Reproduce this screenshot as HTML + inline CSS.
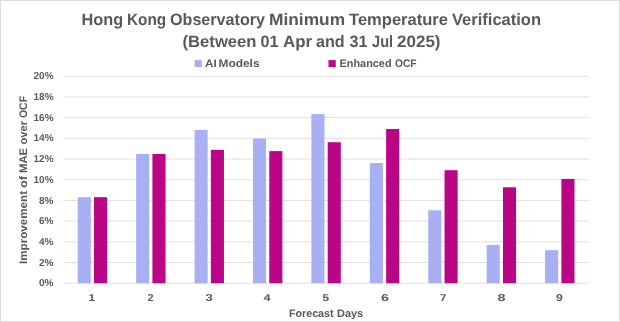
<!DOCTYPE html>
<html><head><meta charset="utf-8"><style>
html,body{margin:0;padding:0;background:#fff;width:620px;height:322px;overflow:hidden}
svg{display:block;will-change:transform}
text{font-family:"Liberation Sans", sans-serif;font-weight:bold;fill:#595959;text-rendering:geometricPrecision}
</style></head><body>
<svg width="620" height="322" viewBox="0 0 620 322">
<rect x="0.5" y="0.5" width="619" height="321" fill="#fff" stroke="#DCDCDC" stroke-width="1"/>
<rect x="63.20" y="282.70" width="525.80" height="1" fill="#E0E0E0"/>
<rect x="63.20" y="262.01" width="525.80" height="1" fill="#E0E0E0"/>
<rect x="63.20" y="241.32" width="525.80" height="1" fill="#E0E0E0"/>
<rect x="63.20" y="220.63" width="525.80" height="1" fill="#E0E0E0"/>
<rect x="63.20" y="199.94" width="525.80" height="1" fill="#E0E0E0"/>
<rect x="63.20" y="179.25" width="525.80" height="1" fill="#E0E0E0"/>
<rect x="63.20" y="158.56" width="525.80" height="1" fill="#E0E0E0"/>
<rect x="63.20" y="137.87" width="525.80" height="1" fill="#E0E0E0"/>
<rect x="63.20" y="117.18" width="525.80" height="1" fill="#E0E0E0"/>
<rect x="63.20" y="96.49" width="525.80" height="1" fill="#E0E0E0"/>
<rect x="63.20" y="75.80" width="525.80" height="1" fill="#E0E0E0"/>
<rect x="77.71" y="197.20" width="13.10" height="86.00" fill="#A8B0F3"/>
<rect x="94.01" y="197.20" width="13.10" height="86.00" fill="#BA0587"/>
<rect x="136.13" y="154.00" width="13.10" height="129.20" fill="#A8B0F3"/>
<rect x="152.43" y="154.00" width="13.10" height="129.20" fill="#BA0587"/>
<rect x="194.56" y="130.00" width="13.10" height="153.20" fill="#A8B0F3"/>
<rect x="210.86" y="149.80" width="13.10" height="133.40" fill="#BA0587"/>
<rect x="252.98" y="138.50" width="13.10" height="144.70" fill="#A8B0F3"/>
<rect x="269.28" y="151.10" width="13.10" height="132.10" fill="#BA0587"/>
<rect x="311.40" y="114.10" width="13.10" height="169.10" fill="#A8B0F3"/>
<rect x="327.70" y="142.20" width="13.10" height="141.00" fill="#BA0587"/>
<rect x="369.82" y="163.00" width="13.10" height="120.20" fill="#A8B0F3"/>
<rect x="386.12" y="129.00" width="13.10" height="154.20" fill="#BA0587"/>
<rect x="428.24" y="210.30" width="13.10" height="72.90" fill="#A8B0F3"/>
<rect x="444.54" y="170.20" width="13.10" height="113.00" fill="#BA0587"/>
<rect x="486.67" y="244.90" width="13.10" height="38.30" fill="#A8B0F3"/>
<rect x="502.97" y="187.30" width="13.10" height="95.90" fill="#BA0587"/>
<rect x="545.09" y="250.20" width="13.10" height="33.00" fill="#A8B0F3"/>
<rect x="561.39" y="178.90" width="13.10" height="104.30" fill="#BA0587"/>
<rect x="194.6" y="60.1" width="7.25" height="7" fill="#A8B0F3"/>
<rect x="328.5" y="60.1" width="7.25" height="7" fill="#BA0587"/>
<text x="81.50" y="24.90" font-size="16.5" textLength="41.65" lengthAdjust="spacingAndGlyphs">Hong</text>
<text x="127.00" y="24.90" font-size="16.5" textLength="39.11" lengthAdjust="spacingAndGlyphs">Kong</text>
<text x="170.00" y="24.90" font-size="16.5" textLength="95.02" lengthAdjust="spacingAndGlyphs">Observatory</text>
<text x="269.00" y="24.90" font-size="16.5" textLength="76.06" lengthAdjust="spacingAndGlyphs">Minimum</text>
<text x="349.00" y="24.90" font-size="16.5" textLength="99.01" lengthAdjust="spacingAndGlyphs">Temperature</text>
<text x="452.00" y="24.90" font-size="16.5" textLength="89.03" lengthAdjust="spacingAndGlyphs">Verification</text>
<text x="182.50" y="46.80" font-size="16.5" textLength="74.06" lengthAdjust="spacingAndGlyphs">(Between</text>
<text x="260.50" y="46.80" font-size="16.5" textLength="18.10" lengthAdjust="spacingAndGlyphs">01</text>
<text x="283.00" y="46.80" font-size="16.5" textLength="29.10" lengthAdjust="spacingAndGlyphs">Apr</text>
<text x="316.00" y="46.80" font-size="16.5" textLength="28.65" lengthAdjust="spacingAndGlyphs">and</text>
<text x="349.50" y="46.80" font-size="16.5" textLength="18.06" lengthAdjust="spacingAndGlyphs">31</text>
<text x="372.00" y="46.80" font-size="16.5" textLength="21.13" lengthAdjust="spacingAndGlyphs">Jul</text>
<text x="397.00" y="46.80" font-size="16.5" textLength="43.54" lengthAdjust="spacingAndGlyphs">2025)</text>
<text x="205.00" y="67.40" font-size="11" textLength="11.71" lengthAdjust="spacingAndGlyphs">AI</text>
<text x="218.50" y="67.40" font-size="11" textLength="41.07" lengthAdjust="spacingAndGlyphs">Models</text>
<text x="339.50" y="67.40" font-size="11" textLength="52.09" lengthAdjust="spacingAndGlyphs">Enhanced</text>
<text x="395.00" y="67.40" font-size="11" textLength="21.60" lengthAdjust="spacingAndGlyphs">OCF</text>
<text x="289.00" y="316.60" font-size="11" textLength="44.51" lengthAdjust="spacingAndGlyphs">Forecast</text>
<text x="337.00" y="316.60" font-size="11" textLength="26.11" lengthAdjust="spacingAndGlyphs">Days</text>
<text x="39.00" y="286.30" font-size="10" textLength="14.57" lengthAdjust="spacingAndGlyphs">0%</text>
<text x="39.00" y="265.61" font-size="10" textLength="14.57" lengthAdjust="spacingAndGlyphs">2%</text>
<text x="39.00" y="244.92" font-size="10" textLength="14.57" lengthAdjust="spacingAndGlyphs">4%</text>
<text x="39.00" y="224.23" font-size="10" textLength="14.57" lengthAdjust="spacingAndGlyphs">6%</text>
<text x="39.00" y="203.54" font-size="10" textLength="14.57" lengthAdjust="spacingAndGlyphs">8%</text>
<text x="33.50" y="182.85" font-size="10" textLength="20.03" lengthAdjust="spacingAndGlyphs">10%</text>
<text x="33.50" y="162.16" font-size="10" textLength="20.03" lengthAdjust="spacingAndGlyphs">12%</text>
<text x="33.50" y="141.47" font-size="10" textLength="20.03" lengthAdjust="spacingAndGlyphs">14%</text>
<text x="33.50" y="120.78" font-size="10" textLength="20.03" lengthAdjust="spacingAndGlyphs">16%</text>
<text x="33.50" y="100.09" font-size="10" textLength="20.03" lengthAdjust="spacingAndGlyphs">18%</text>
<text x="33.50" y="79.40" font-size="10" textLength="20.03" lengthAdjust="spacingAndGlyphs">20%</text>
<text x="88.50" y="300.80" font-size="10" textLength="6.71" lengthAdjust="spacingAndGlyphs">1</text>
<text x="147.50" y="300.80" font-size="10" textLength="6.08" lengthAdjust="spacingAndGlyphs">2</text>
<text x="205.50" y="300.80" font-size="10" textLength="7.27" lengthAdjust="spacingAndGlyphs">3</text>
<text x="263.50" y="300.80" font-size="10" textLength="7.10" lengthAdjust="spacingAndGlyphs">4</text>
<text x="322.50" y="300.80" font-size="10" textLength="6.62" lengthAdjust="spacingAndGlyphs">5</text>
<text x="381.00" y="300.80" font-size="10" textLength="7.94" lengthAdjust="spacingAndGlyphs">6</text>
<text x="440.00" y="300.80" font-size="10" textLength="6.34" lengthAdjust="spacingAndGlyphs">7</text>
<text x="497.50" y="300.80" font-size="10" textLength="8.02" lengthAdjust="spacingAndGlyphs">8</text>
<text x="556.00" y="300.80" font-size="10" textLength="6.88" lengthAdjust="spacingAndGlyphs">9</text>
<text transform="translate(27.00,264.00) rotate(-90)" font-size="11" textLength="73.01" lengthAdjust="spacingAndGlyphs">Improvement</text>
<text transform="translate(27.00,188.00) rotate(-90)" font-size="11" textLength="12.14" lengthAdjust="spacingAndGlyphs">of</text>
<text transform="translate(27.00,173.00) rotate(-90)" font-size="11" textLength="25.04" lengthAdjust="spacingAndGlyphs">MAE</text>
<text transform="translate(27.00,144.50) rotate(-90)" font-size="11" textLength="23.55" lengthAdjust="spacingAndGlyphs">over</text>
<text transform="translate(27.00,118.00) rotate(-90)" font-size="11" textLength="22.05" lengthAdjust="spacingAndGlyphs">OCF</text>
</svg>
</body></html>
